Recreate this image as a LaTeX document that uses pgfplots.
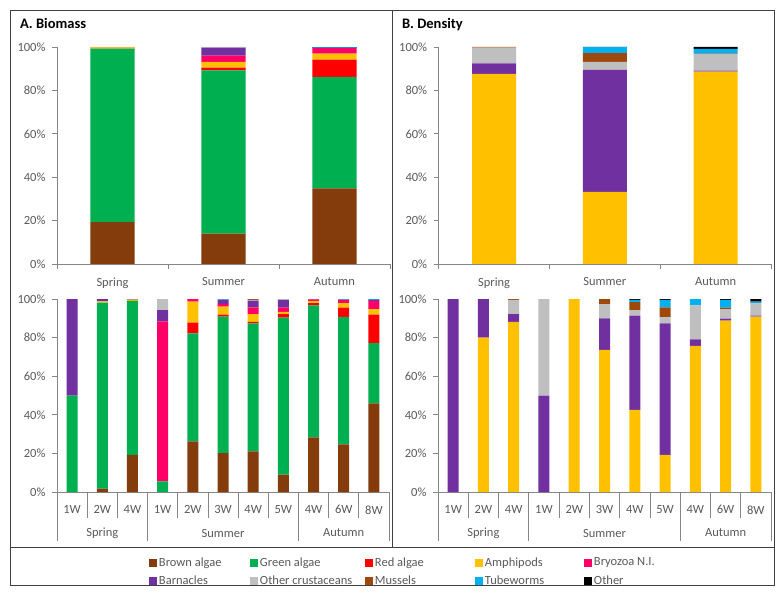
\documentclass[border=0pt]{standalone}
\usepackage{pgfplots}
\pgfplotsset{compat=1.18}
\usepackage{pgfplotstable}
\usepackage{fontspec}
\setmainfont{Carlito}

\definecolor{cBrown}{HTML}{843C0C}
\definecolor{cGreen}{HTML}{00B050}
\definecolor{cRed}{HTML}{FF0000}
\definecolor{cAmph}{HTML}{FFC000}
\definecolor{cBryo}{HTML}{FF0066}
\definecolor{cBarn}{HTML}{7030A0}
\definecolor{cOcr}{HTML}{BFBFBF}
\definecolor{cMuss}{HTML}{9E480E}
\definecolor{cTube}{HTML}{00B0F0}
\definecolor{cOther}{HTML}{000000}
\definecolor{axgray}{HTML}{868686}
\definecolor{txtgray}{HTML}{595959}
\definecolor{bordergray}{HTML}{404040}

% Biomass by season
\pgfplotstableread{
x brown green red amph bryo barn ocr muss tube other
0 19.3 79.9 0.1 0.5 0   0.1 0.1 0   0   0
1 14.0 75.2 1.3 2.7 2.8 3.7 0.3 0   0   0
2 34.9 51.3 8.0 2.7 2.6 0.2 0   0   0.3 0
}\tA
% Density by season
\pgfplotstableread{
x brown green red amph bryo barn ocr muss tube other
0 0 0 0 87.6 0 4.9  7.2 0.3 0   0
1 0 0 0 33.2 0 56.2 3.7 4.1 2.7 0.1
2 0 0 0 88.6 0 0.5  7.6 0.2 2.2 0.9
}\tB
% Biomass by week
\pgfplotstableread{
x brown green red amph bryo barn ocr muss tube other
0  0    50.0 0    0    0    50.0 0   0   0   0
1  1.7  96.4 0    0.7  0    1.2  0   0   0   0
2  19.3 79.7 0    0.7  0    0.3  0   0   0   0
3  0    5.5  0    0    82.9 5.9  5.7 0   0   0
4  26.2 56.0 5.6  10.8 1.4  0    0   0   0   0
5  20.2 70.7 1.0  4.1  1.4  2.3  0   0   0.3 0
6  21.0 66.4 0.7  4.1  3.5  3.4  0.5 0.4 0   0
7  9.0  81.3 1.8  1.2  2.2  4.0  0.3 0.2 0   0
8  28.3 68.4 1.1  1.2  0.8  0.2  0   0   0   0
9  24.7 66.0 4.8  2.3  1.7  0.2  0   0   0.3 0
10 45.9 31.2 14.8 2.9  4.2  0.5  0   0   0.5 0
}\tC
% Density by week
\pgfplotstableread{
x brown green red amph bryo barn ocr muss tube other
0  0 0 0 0    0 100  0    0   0   0
1  0 0 0 80.0 0 20.0 0    0   0   0
2  0 0 0 88.1 0 4.1  7.3  0.5 0   0
3  0 0 0 0    0 50.0 50.0 0   0   0
4  0 0 0 100  0 0    0    0   0   0
5  0 0 0 73.6 0 16.4 7.4  2.6 0   0
6  0 0 0 42.6 0 48.8 2.9  4.1 1.1 0.5
7  0 0 0 19.3 0 68.1 3.1  5.2 3.8 0.5
8  0 0 0 75.7 0 3.4  17.6 0   3.3 0
9  0 0 0 88.8 0 1.0  4.9  0.8 4.0 0.5
10 0 0 0 90.9 0 0.5  6.4  0   0.8 1.4
}\tD

\newcommand{\stackplots}[1]{%
  \addplot[fill=cBrown,draw=none] table[x=x,y=brown]{#1};
  \addplot[fill=cGreen,draw=none] table[x=x,y=green]{#1};
  \addplot[fill=cRed,draw=none]   table[x=x,y=red]{#1};
  \addplot[fill=cAmph,draw=none]  table[x=x,y=amph]{#1};
  \addplot[fill=cBryo,draw=none]  table[x=x,y=bryo]{#1};
  \addplot[fill=cBarn,draw=none]  table[x=x,y=barn]{#1};
  \addplot[fill=cOcr,draw=none]   table[x=x,y=ocr]{#1};
  \addplot[fill=cMuss,draw=none]  table[x=x,y=muss]{#1};
  \addplot[fill=cTube,draw=none]  table[x=x,y=tube]{#1};
  \addplot[fill=cOther,draw=none] table[x=x,y=other]{#1};
}

\pgfplotsset{
  panel/.style={
    scale only axis, anchor=south west,
    ybar stacked, ymin=0, ymax=100,
    ytick={0,20,...,100},
    yticklabel={\pgfmathprintnumber{\tick}\%},
    /pgf/number format/assume math mode=true,
    axis x line*=bottom, axis y line*=left,
    axis line style={axgray, line width=0.75pt},
    tick style={axgray, line width=0.75pt},
    tick align=outside,
    major tick length=5pt,
    major x tick style={draw=none},
    ticklabel style={font=\fontsize{12.5}{15}\selectfont, text=txtgray},
    yticklabel style={xshift=-3pt},
    xticklabel style={yshift=-5pt},
    clip=false,
  },
  toppanel/.style={
    panel, width=333pt, height=217pt,
    xmin=-0.5, xmax=2.5, bar width=44pt,
    xtick={0,1,2}, xticklabels={Spring,Summer,Autumn},
    minor xtick={-0.5,0.5,1.5,2.5}, minor tick length=5pt,
  },
  botpanel/.style={
    panel, width=332pt, height=193pt,
    xmin=-0.5, xmax=10.5, bar width=11pt,
    xtick={0,...,10}, xticklabels={1W,2W,4W,1W,2W,3W,4W,5W,4W,6W,8W},
    minor xtick={0.5,1.5,3.5,4.5,5.5,6.5,8.5,9.5}, minor tick length=26pt,
  },
}

\newcommand{\groups}{%
  \pgfplotsinvokeforeach{-0.5,2.5,7.5,10.5}{
    \draw[axgray, line width=0.75pt] (axis cs:##1,0) -- ++(0pt,-49pt);
  }
  \node[font=\fontsize{12.5}{15}\selectfont, text=txtgray] at ([yshift=-41pt]axis cs:1,0) {Spring};
  \node[font=\fontsize{12.5}{15}\selectfont, text=txtgray] at ([yshift=-41pt]axis cs:5,0) {Summer};
  \node[font=\fontsize{12.5}{15}\selectfont, text=txtgray] at ([yshift=-41pt]axis cs:9,0) {Autumn};
}

\begin{document}
\begin{tikzpicture}[x=1pt,y=1pt]
\path[use as bounding box] (0,0) rectangle (784,595);
\draw[bordergray, line width=0.9pt] (10,10) rectangle (774,585);
\draw[bordergray, line width=0.9pt] (392,48) -- (392,585);
\draw[bordergray, line width=0.9pt] (10,48) -- (774,48);

\node[anchor=base west, font=\fontsize{14.5}{17}\selectfont\bfseries] at (16.5,566) {A. Biomass};
\node[anchor=base west, font=\fontsize{14.5}{17}\selectfont\bfseries] at (398.5,566) {B. Density};

\begin{axis}[toppanel, at={(57pt,331pt)}]
  \stackplots{\tA}
\end{axis}

\begin{axis}[toppanel, at={(438.7pt,331pt)}, width=332.3pt]
  \stackplots{\tB}
\end{axis}

\begin{axis}[botpanel, at={(57pt,103pt)},
  legend columns=5,
  legend cell align=left,
  legend image code/.code={\fill[#1] (0pt,-4pt) rectangle (8pt,4pt);},
  legend style={at={(0.2771,-0.4145)}, anchor=west, draw=none, fill=none,
    inner sep=0pt, outer sep=0pt, row sep=4.5pt,
    font=\fontsize{12.5}{15}\selectfont, text=txtgray},
  legend entries={
    \makebox[89pt][l]{Brown algae},
    \makebox[103pt][l]{Green algae},
    \makebox[98pt][l]{Red algae},
    \makebox[97pt][l]{Amphipods},
    \makebox[70pt][l]{Bryozoa N.I.},
    \makebox[89pt][l]{Barnacles},
    \makebox[103pt][l]{Other crustaceans},
    \makebox[98pt][l]{Mussels},
    \makebox[97pt][l]{Tubeworms},
    \makebox[70pt][l]{Other}},
]
  \stackplots{\tC}
  \groups
\end{axis}

\begin{axis}[botpanel, at={(438pt,103pt)}, width=333pt]
  \stackplots{\tD}
  \groups
\end{axis}
\end{tikzpicture}
\end{document}
